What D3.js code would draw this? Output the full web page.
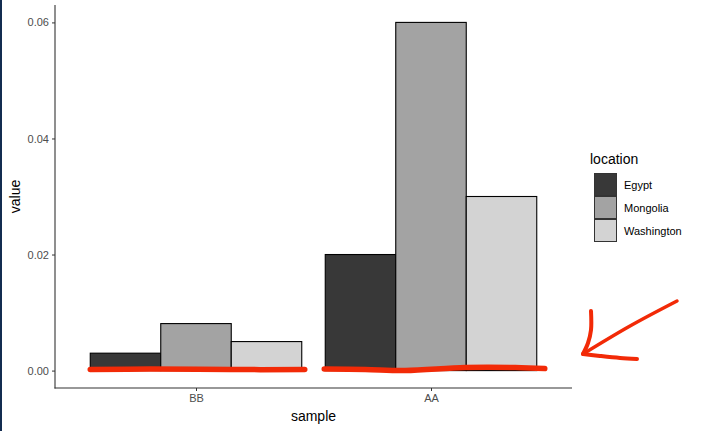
<!DOCTYPE html>
<html><head><meta charset="utf-8">
<script src="https://cdn.jsdelivr.net/npm/d3@7"></script>
<style>body{margin:0;background:#fff}svg{display:block}</style>
</head><body>
<script>
const samples = ["BB", "AA"];
const locations = ["Egypt", "Mongolia", "Washington"];
const valuesBB = [0.003, 0.0081, 0.005];
const valuesAA = [0.02, 0.06, 0.03];
const yTicks = [0, 0.02, 0.04, 0.06];
const fills = ["#383838", "#a3a3a3", "#d3d3d3"];

(function () {
const data = [];
samples.forEach((s, i) => {
  const vals = i === 0 ? valuesBB : valuesAA;
  locations.forEach((l, j) => data.push({sample: s, location: l, value: vals[j]}));
});

const W = 701, H = 431;
const svg = d3.select("body").append("svg").attr("width", W).attr("height", H);
svg.append("rect").attr("width", W).attr("height", H).attr("fill", "#fff");
svg.append("rect").attr("x", 0).attr("y", 0).attr("width", 2).attr("height", H).attr("fill", "#132c50");

const pL = 55, pR = 572, pT = 5, pB = 388;
const xc = d3.scalePoint().domain(samples).range([pL + (pR - pL) * 0.6 / 2.2, pL + (pR - pL) * 1.6 / 2.2]);
const unit = (pR - pL) / 2.2;
const xsub = d3.scaleBand().domain(locations).range([-0.45 * unit, 0.45 * unit]);
const y = d3.scaleLinear().domain([-0.003, 0.063]).range([pB, pT]);
const color = d3.scaleOrdinal().domain(locations).range(fills);
const font = "Liberation Sans, Arial, sans-serif";

svg.append("g").selectAll("rect").data(data).join("rect")
  .attr("x", d => xc(d.sample) + xsub(d.location))
  .attr("y", d => y(d.value))
  .attr("width", xsub.bandwidth())
  .attr("height", d => y(0) - y(d.value))
  .attr("fill", d => color(d.location))
  .attr("stroke", "#000").attr("stroke-width", 1.1);

const yAxis = d3.axisLeft(y).tickValues(yTicks).tickFormat(d3.format(".2f")).tickSize(3).tickPadding(3);
const gy = svg.append("g").attr("transform", `translate(${pL},0)`).call(yAxis);
const xAxis = d3.axisBottom(xc).tickSize(3).tickPadding(3);
const gx = svg.append("g").attr("transform", `translate(0,${pB})`).call(xAxis);
[gy, gx].forEach(g => {
  g.select(".domain").remove();
  g.selectAll(".tick line").attr("stroke", "#333").attr("stroke-width", 1);
  g.selectAll(".tick text").attr("fill", "#4d4d4d").style("font-family", font).style("font-size", "11px");
});
svg.append("line").attr("x1", pL).attr("x2", pL).attr("y1", pT).attr("y2", pB + 0.5).attr("stroke", "#333").attr("stroke-width", 1.1);
svg.append("line").attr("x1", pL - 0.5).attr("x2", pR).attr("y1", pB).attr("y2", pB).attr("stroke", "#333").attr("stroke-width", 1.1);

svg.append("text").attr("x", (pL + pR) / 2).attr("y", 421).attr("text-anchor", "middle")
  .style("font-family", font).style("font-size", "14px").text("sample");
svg.append("text").attr("transform", `translate(20,${(pT + pB) / 2}) rotate(-90)`).attr("text-anchor", "middle")
  .style("font-family", font).style("font-size", "14px").text("value");

const lg = svg.append("g").attr("transform", "translate(594,173)");
lg.append("text").attr("x", -4).attr("y", -9).style("font-family", font).style("font-size", "14px").text("location");
locations.forEach((l, i) => {
  lg.append("rect").attr("x", 0.5).attr("y", i * 23 + 0.5).attr("width", 22).attr("height", 22)
    .attr("fill", color(l)).attr("stroke", "#333").attr("stroke-width", 1);
  lg.append("text").attr("x", 30).attr("y", i * 23 + 15.5)
    .style("font-family", font).style("font-size", "11px").text(l);
});

// red hand-drawn annotations
const red = "#f22a07";
const line = d3.line().curve(d3.curveCatmullRom);
const bbL = xc("BB") - 0.45 * unit, bbR = xc("BB") + 0.45 * unit;
const aaL = xc("AA") - 0.45 * unit, aaR = xc("AA") + 0.45 * unit;
const y0 = y(0);
const underlineBB = [[bbL, y0 - 1], [bbL + 60, y0 - 1.5], [bbL + 140, y0 - 1], [bbR + 3, y0 - 1]];
const underlineAA = [[aaL - 1, y0 - 1.5], [aaL + 40, y0 - 1], [aaL + 80, y0], [aaL + 140, y0 - 3], [aaL + 190, y0 - 3], [aaR + 8, y0 - 2]];
const arrowPts = [[677, 301], [630, 326], [583, 354]];
const arrowSide = [[591, 311], [591, 330], [588, 343], [583, 354]];
const arrowBase = [[583, 354], [600, 356], [620, 358], [637, 359]];
[underlineBB, underlineAA].forEach(p => svg.append("path").attr("d", line(p)).attr("fill", "none")
  .attr("stroke", red).attr("stroke-width", 5.5).attr("stroke-linecap", "round"));
svg.append("path").attr("d", line(arrowPts)).attr("fill", "none").attr("stroke", red).attr("stroke-width", 3.5).attr("stroke-linecap", "round");
[arrowSide, arrowBase].forEach(p => svg.append("path").attr("d", line(p)).attr("fill", "none")
  .attr("stroke", red).attr("stroke-width", 4).attr("stroke-linecap", "round"));
})();
</script>
</body></html>
